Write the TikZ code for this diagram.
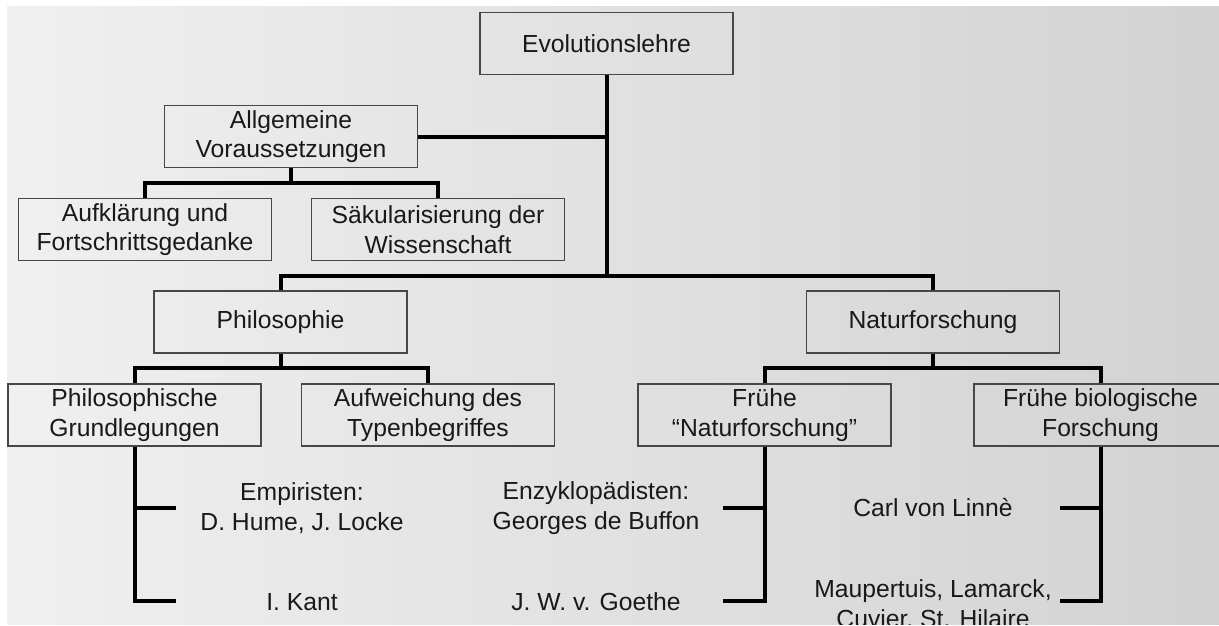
\documentclass[tikz,border=0pt]{standalone}
\usepackage{fontspec}
\setmainfont{Liberation Sans}
\newcommand\boxfont{\fontsize{24.7}{29.5}\selectfont}
\begin{document}
\begin{tikzpicture}[x=1pt,y=-1pt,
  box/.style={draw=black!72, line width=1.2pt, minimum width=253pt, minimum height=62pt, inner sep=0pt, align=center, font=\boxfont, text=black!90},
  leaf/.style={align=center, inner sep=0pt, font=\boxfont, text=black!90},
  conn/.style={line width=4pt, black, line join=miter}]
\useasboundingbox (0,0) rectangle (1219,626);
\fill[white] (0,0) rectangle (1219,626);
\begin{scope}
\clip (7,7) rectangle (1219,624);
\shade[left color=gray!12, right color=gray!35] (7,7) rectangle (1219,624);

% boxes
\node[box] (evo)   at (606.5,43.5) {Evolutionslehre};
\node[box] (allg)  at (291,136.5)  {Allgemeine\\Voraussetzungen};
\node[box] (aufk)  at (145,229.5)  {Aufklärung und\\Fortschrittsgedanke};
\node[box] (saek)  at (438,229.5)  {Säkularisierung der\\Wissenschaft};
\node[box] (phil)  at (280.5,322)  {Philosophie};
\node[box] (natur) at (933,322)    {Naturforschung};
\node[box] (philg) at (134.5,415)  {Philosophische\\Grundlegungen};
\node[box] (aufw)  at (428,415)    {Aufweichung des\\Typenbegriffes};
\node[box] (frueh) at (764.5,415)  {Frühe\\“Naturforschung”};
\node[box] (biol)  at (1100.5,415) {Frühe biologische\\Forschung};

% leaves
\node[leaf] (emp)    at (302,508) {Empiristen:\\D. Hume, J. Locke};
\node[leaf] (kant)   at (302,602) {I. Kant};
\node[leaf] (enz)    at (596,508) {Enzyklopädisten:\\Georges de Buffon};
\node[leaf] (goethe) at (596,602) {J. W. v. Goethe};
\node[leaf] (linne)  at (933,508) {Carl von Linnè};
\node[leaf] (maup)   at (933,605) {Maupertuis, Lamarck,\\Cuvier, St. Hilaire};

% helper rows
\coordinate (b0) at (0,183);
\coordinate (b1) at (0,276);
\coordinate (b2) at (0,368);
\coordinate (pe1) at (176,508);
\coordinate (pe2) at (176,601);
\coordinate (fe1) at (723,508);
\coordinate (fe2) at (723,601);
\coordinate (be1) at (1060,508);
\coordinate (be2) at (1060,601);

% connectors
\draw[conn] (evo.south) -- (evo.south |- b1);
\draw[conn] (allg.east) -- (allg.east -| evo.south);
\draw[conn] (allg.south) -- (allg.south |- b0);
\draw[conn] (aufk.north) -- (aufk.north |- b0) -- (saek.north |- b0) -- (saek.north);
\draw[conn] (phil.north) -- (phil.north |- b1) -- (natur.north |- b1) -- (natur.north);
\draw[conn] (phil.south) -- (phil.south |- b2);
\draw[conn] (philg.north) -- (philg.north |- b2) -- (aufw.north |- b2) -- (aufw.north);
\draw[conn] (natur.south) -- (natur.south |- b2);
\draw[conn] (frueh.north) -- (frueh.north |- b2) -- (biol.north |- b2) -- (biol.north);

\draw[conn] (philg.south) -- (philg.south |- pe2) -- (pe2);
\draw[conn] (philg.south |- pe1) -- (pe1);
\draw[conn] (frueh.south) -- (frueh.south |- fe2) -- (fe2);
\draw[conn] (frueh.south |- fe1) -- (fe1);
\draw[conn] (biol.south) -- (biol.south |- be2) -- (be2);
\draw[conn] (biol.south |- be1) -- (be1);
\end{scope}
\end{tikzpicture}
\end{document}
